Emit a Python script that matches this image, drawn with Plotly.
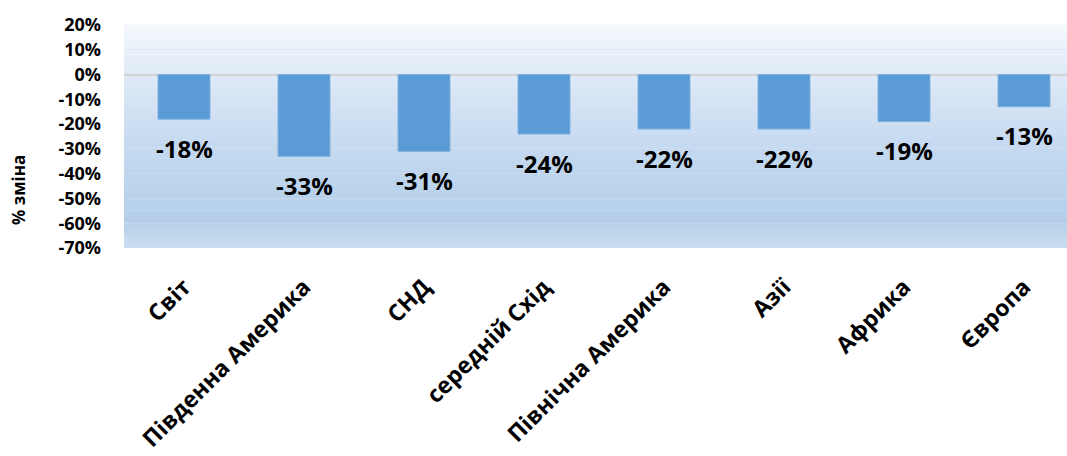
import plotly.graph_objects as go

categories = ["Світ", "Південна Америка", "СНД", "середній Схід",
              "Північна Америка", "Азії", "Африка", "Європа"]
values = [-18, -33, -31, -24, -22, -22, -19, -13]
tick_vals = [20, 10, 0, -10, -20, -30, -40, -50, -60, -70]
tick_text = [f"{v}%" for v in tick_vals]

FONT = "Open Sans"
W, H = 1067, 456
ML, MT, MB = 124, 25, 208
plot_w = W - ML
unit_px = 120.0
x_hi = -0.5 + plot_w / unit_px

fig = go.Figure()

# gradient background via stacked strips (styling only)
stops = [(0.0, (204, 222, 240)), (0.12, (180, 206, 234)), (0.45, (196, 217, 240)),
         (0.78, (223, 234, 247)), (1.0, (244, 247, 252))]
def col(t):
    for (a, ca), (b, cb) in zip(stops[:-1], stops[1:]):
        if a <= t <= b:
            f = (t - a) / (b - a)
            return "rgb(%d,%d,%d)" % tuple(round(ca[i] + (cb[i] - ca[i]) * f) for i in range(3))
    return "rgb(244,247,252)"
N = 60
shapes = []
for i in range(N):
    shapes.append(dict(type="rect", xref="x domain", yref="y domain",
                       x0=0, x1=1, y0=i / N, y1=(i + 1) / N + 0.002,
                       fillcolor=col((i + 0.5) / N), line_width=0, layer="below"))

fig.add_trace(go.Bar(
    x=categories, y=values, width=0.433,
    marker=dict(color="#5B9BD5", line=dict(color="#7FB0DE", width=1)),
    hoverinfo="skip",
))

for c, v in zip(categories, values):
    fig.add_annotation(x=c, y=v, text=f"{v}%", showarrow=False,
                       yanchor="middle", yshift=-29,
                       font=dict(family=FONT, size=24, color="black", weight="bold"))

fig.add_annotation(xref="paper", yref="paper", x=(18 - ML) / plot_w,
                   y=(H - MB - 190) / (H - MT - MB), text="% зміна",
                   textangle=-90, showarrow=False, xanchor="center", yanchor="middle",
                   font=dict(family=FONT, size=17, color="black", weight="bold"))

fig.update_layout(
    width=W, height=H, margin=dict(l=ML, r=0, t=MT, b=MB, pad=0, autoexpand=False),
    paper_bgcolor="white", plot_bgcolor="rgba(0,0,0,0)",
    showlegend=False, shapes=shapes,
    font=dict(family=FONT, color="black"),
)
fig.update_xaxes(range=[-0.5, x_hi], showgrid=False, showline=False, ticks="",
                 tickangle=-45, ticklabelstandoff=20, automargin=False,
                 tickfont=dict(family=FONT, size=23, color="black", weight="bold"))
fig.update_yaxes(range=[-70, 20], tickvals=tick_vals, ticktext=tick_text,
                 showgrid=True, gridcolor="rgba(215,222,232,0.5)", gridwidth=1,
                 zeroline=True, zerolinecolor="#D3D3D3", zerolinewidth=2,
                 showline=False, ticks="", ticklabelstandoff=22, automargin=False,
                 tickfont=dict(family=FONT, size=18, color="black", weight="bold"))

fig.write_html("out.html")
